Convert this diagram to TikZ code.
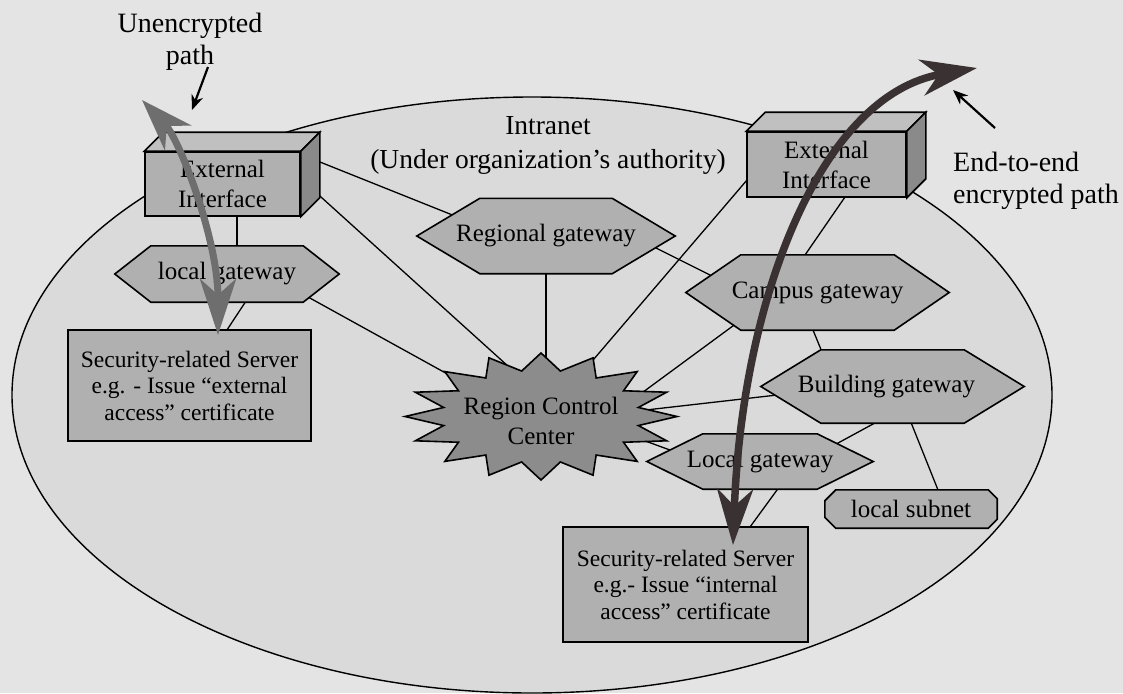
\documentclass[tikz,border=0pt]{standalone}
\usepackage{fontspec}
\setmainfont{Liberation Serif}
\usetikzlibrary{calc,arrows.meta}
\pgfdeclarelayer{back}
\pgfdeclarelayer{mid}
\pgfdeclarelayer{shp}
\pgfsetlayers{back,mid,shp,main}
\definecolor{bgc}{HTML}{E4E4E4}
\definecolor{ellc}{HTML}{DADADA}
\definecolor{nodec}{HTML}{B0B0B0}
\definecolor{starc}{HTML}{8C8C8C}
\definecolor{sidec}{HTML}{8A8A8A}
\definecolor{topc}{HTML}{C0C0C0}
\definecolor{leftarr}{HTML}{6E6E6E}
\definecolor{rightarr}{HTML}{3A3232}
\newcommand\hexfill[2]{%
  \begin{pgfonlayer}{shp}
  \filldraw[edge] (#1.west) -- ([xshift=#2]#1.north west) -- ([xshift=-#2]#1.north east) -- (#1.east) -- ([xshift=-#2]#1.south east) -- ([xshift=#2]#1.south west) -- cycle;
  \end{pgfonlayer}}
\newcommand\boxfaces[2]{%
  \begin{pgfonlayer}{shp}
  \filldraw[edge, fill=topc] (#1.north west) -- ++(#2,-#2) -- ($(#1.north east)+(#2,-#2)$) -- (#1.north east) -- cycle;
  \filldraw[edge, fill=sidec] (#1.north east) -- ++(#2,-#2) -- ($(#1.south east)+(#2,-#2)$) -- (#1.south east) -- cycle;
  \end{pgfonlayer}}
\begin{document}
\begin{tikzpicture}[x=1pt,y=-1pt,
  edge/.style={draw=black, fill=nodec, line width=1.6pt, line join=miter},
  nd/.style={font=\fontsize{25}{30}\selectfont, align=center, inner sep=0pt},
  sv/.style={font=\fontsize{23.5}{26.5}\selectfont, align=center, inner sep=0pt},
  box/.style={draw=black, fill=nodec, line width=1.6pt},
  lbl/.style={font=\fontsize{28}{32}\selectfont, align=center, inner sep=0pt},
  conn/.style={line width=1.3pt, black},
  ptr/.style={line width=2.2pt, black, -{Stealth[length=15pt,width=12pt]}},
  bigleft/.style={line width=7pt, leftarr, arrows={Stealth[length=52pt,width=36pt,inset=16pt]-Stealth[length=56pt,width=36pt,inset=16pt]}},
  bigright/.style={line width=7.5pt, rightarr, arrows={Stealth[length=56pt,width=36pt,inset=17pt]-Stealth[length=56pt,width=36pt,inset=17pt]}}
]
\begin{pgfonlayer}{back}
\fill[bgc] (0,0) rectangle (1123,693);
\filldraw[fill=ellc, line width=1.4pt] (532,395) ellipse [x radius=520pt, y radius=298pt];
\end{pgfonlayer}
\useasboundingbox (0,0) rectangle (1123,693);

% labels
\node[lbl] (ut) at (190,41.5) {Unencrypted\\path};
\node[lbl, font=\fontsize{27.5}{34}\selectfont] (intr) at (548,145.5) {Intranet\\(Under organization’s authority)};
\node[lbl, align=left, anchor=west] (et) at (953,181) {End-to-end\\encrypted path};

% nodes
\node[nd, box, minimum width=155pt, minimum height=64pt] (ext1) at (222.5,184) {External\\Interface};
\node[nd, box, minimum width=159pt, minimum height=65pt] (ext2) at (826.5,164.5) {External\\Interface};
\node[nd, minimum width=224pt, minimum height=56pt] (lg1) at (227,274) {local gateway};
\node[nd, minimum width=258pt, minimum height=75pt] (rg) at (546,236) {Regional gateway};
\node[nd, minimum width=263pt, minimum height=75pt] (cg) at (817.5,292.5) {Campus gateway};
\node[nd, minimum width=263pt, minimum height=73pt] (bg) at (892.5,386.5) {\hspace*{-12pt}Building gateway};
\node[nd, minimum width=226pt, minimum height=55pt] (lg2) at (760,461.5) {Local gateway};
\node[nd, minimum width=172pt, minimum height=38pt] (ls) at (911,509) {local subnet};
\node[sv, box, minimum width=243pt, minimum height=111pt] (srv1) at (189.5,385.5) {Security-related Server\\e.g. - Issue “external\\access” certificate};
\node[sv, box, minimum width=245pt, minimum height=115pt] (srv2) at (685.5,584.5) {Security-related Server\\e.g.- Issue “internal\\access” certificate};
\node[nd] (rcc) at (541,421) {Region Control\\Center};

% shapes
\boxfaces{ext1}{19}
\boxfaces{ext2}{19}
\hexfill{lg1}{36pt}
\hexfill{rg}{63pt}
\hexfill{cg}{55pt}
\hexfill{bg}{60pt}
\hexfill{lg2}{56pt}
\begin{pgfonlayer}{shp}
\filldraw[edge] ([xshift=11pt]ls.north west) -- ([xshift=-9pt]ls.north east) -- ([yshift=-9pt]ls.north east) -- ([yshift=9pt]ls.south east) -- ([xshift=-9pt]ls.south east) -- ([xshift=11pt]ls.south west) -- ([yshift=11pt]ls.south west) -- ([yshift=-11pt]ls.north west) -- cycle;
\filldraw[edge, fill=starc] ($(rcc.center)+(0,-4.5)+(0:136 and 63.5)$)
  \foreach \k [evaluate=\k as \rx using {136*(1-0.27*mod(\k,2))}, evaluate=\k as \ry using {63.5*(1-0.27*mod(\k,2))}] in {1,...,31} { -- ($(rcc.center)+(0,-4.5)+({\k*11.25}:{\rx} and {\ry})$) } -- cycle;
\end{pgfonlayer}

% connectors
\begin{pgfonlayer}{mid}
\draw[conn] ($(ext1)+(14.5,0)$) -- ($(lg1)+(10,0)$);
\draw[conn] ($(ext1)+(67.5,-34)$) -- ($(rg)+(-76,-14)$);
\draw[conn] ($(ext1)+(67.5,-15)$) -- ($(rcc)+(-11,-35)$);
\draw[conn] ($(lg1)+(53,7.5)$) -- ($(rcc)+(-61,-29)$);
\draw[conn] ($(lg1)+(23,21)$) -- ($(srv1)+(30.5,-45)$);
\draw[conn] (rg) -- ($(rcc)+(5,-10)$);
\draw[conn] ($(rg)+(94,4)$) -- ($(cg)+(-77.5,-2.5)$);
\draw[conn] ($(ext2)+(-66.5,0.3)$) -- ($(rcc)+(29,-34)$);
\draw[conn] ($(ext2)+(23.5,25.25)$) -- ($(cg)+(-22.5,-23)$);
\draw[conn] ($(cg)+(-57.5,13.5)$) -- ($(rcc)+(79,-12)$);
\draw[conn] ($(cg)+(-7.8,29.5)$) -- ($(bg)+(-66.4,-24.5)$);
\draw[conn] ($(bg)+(-92.5,5.9)$) -- ($(rcc)+(89,-9.2)$);
\draw[conn] ($(bg)+(-12.5,33.7)$) -- ($(lg2)+(60,-8.7)$);
\draw[conn] ($(bg)+(16.7,31.5)$) -- ($(ls)+(29.8,-12)$);
\draw[conn] ($(rcc)+(79,10.8)$) -- ($(lg2)+(-70,-4.2)$);
\draw[conn] ($(lg2)+(21,23)$) -- ($(srv2)+(59.4,-50.5)$);
\end{pgfonlayer}

% paths
\coordinate (la1) at (142,100);
\coordinate (la2) at (218,335);
\draw[bigleft] (la1) .. controls (180,140) and (218,240) .. (la2);
\coordinate (ra1) at (733,545);
\coordinate (ra2) at (977,68);
\draw[bigright] (ra1) .. controls (742,300) and (820,95) .. (ra2);

% pointers
\coordinate (us) at (208,67);
\coordinate (ue) at (192,110);
\draw[ptr] (us) -- (ue);
\coordinate (es) at (995,128);
\coordinate (ee) at (953,90);
\draw[ptr] (es) -- (ee);
\end{tikzpicture}
\end{document}
